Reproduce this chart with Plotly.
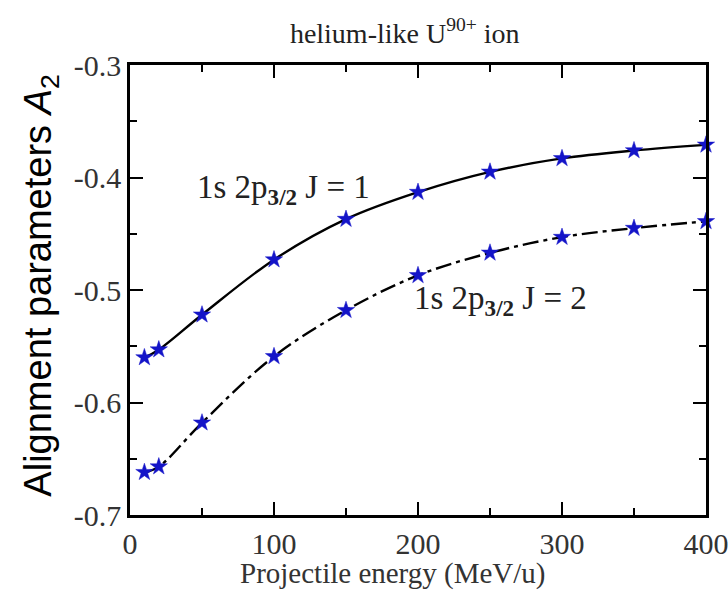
import plotly.graph_objects as go

energy = [10, 20, 50, 100, 150, 200, 250, 300, 350, 400]
a2_j1 = [-0.560, -0.553, -0.522, -0.473, -0.437, -0.413, -0.395, -0.383, -0.376, -0.371]
a2_j2 = [-0.662, -0.657, -0.618, -0.559, -0.518, -0.487, -0.467, -0.453, -0.445, -0.439]

x_ticks = [0, 100, 200, 300, 400]
x_ticktext = ["0", "100", "200", "300", "400"]
y_ticks = [-0.7, -0.6, -0.5, -0.4, -0.3]
y_ticktext = ["-0.7", "-0.6", "-0.5", "-0.4", "-0.3"]

serif = "Liberation Serif"
sans = "Liberation Sans"
marker = dict(symbol="star", size=13, color="#1414c8", line=dict(width=0.5, color="#1414c8"))

fig = go.Figure()
fig.add_trace(go.Scatter(x=energy, y=a2_j1, mode="lines+markers",
                         line=dict(color="black", width=2.4, shape="spline"),
                         marker=marker, showlegend=False, cliponaxis=False))
fig.add_trace(go.Scatter(x=energy, y=a2_j2, mode="lines+markers",
                         line=dict(color="black", width=2.4, shape="spline", dash="16px,5px,4px,5px"),
                         marker=marker, showlegend=False, cliponaxis=False))

axis_common = dict(showline=True, linecolor="black", linewidth=2.5, mirror="ticks",
                   ticks="inside", ticklen=13, tickwidth=1.5, tickcolor="black",
                   showgrid=False, zeroline=False, ticklabeloverflow="allow", automargin=False,
                   tickfont=dict(family=serif, size=30, color="#333333"))

fig.update_xaxes(range=[0, 400], tickvals=x_ticks, ticktext=x_ticktext,
                 minor=dict(dtick=50, tick0=0, ticks="inside", ticklen=7, tickwidth=1.5, tickcolor="black"),
                 **axis_common)
fig.update_yaxes(range=[-0.7, -0.3], tickvals=y_ticks, ticktext=y_ticktext,
                 minor=dict(dtick=0.05, tick0=-0.7, ticks="inside", ticklen=7, tickwidth=1.5, tickcolor="black"),
                 **axis_common)

# axis titles as annotations for precise placement
fig.add_annotation(x=0.455, y=-0.131, xref="paper", yref="paper", xanchor="center", yanchor="middle",
                   text="Projectile energy (MeV/u)", showarrow=False,
                   font=dict(family=serif, size=29, color="#333333"))
fig.add_annotation(x=-0.156, y=0.51, xref="paper", yref="paper", xanchor="center", yanchor="middle",
                   text="Alignment parameters <i>A</i><sub>2</sub>", showarrow=False, textangle=-90,
                   font=dict(family=sans, size=38, color="black"))

fig.add_annotation(x=45, y=-0.411, xref="x", yref="y", xanchor="left", yanchor="middle",
                   text="1s 2p<sub><b>3/2</b></sub> J = 1", showarrow=False,
                   font=dict(family=serif, size=33, color="#222222"))
fig.add_annotation(x=196, y=-0.509, xref="x", yref="y", xanchor="left", yanchor="middle",
                   text="1s 2p<sub><b>3/2</b></sub> J = 2", showarrow=False,
                   font=dict(family=serif, size=33, color="#222222"))

fig.update_layout(
    width=728, height=590,
    margin=dict(l=130, r=22, t=65, b=75, autoexpand=False),
    paper_bgcolor="white", plot_bgcolor="white",
    title=dict(text="helium-like U<sup>90+</sup> ion", xref="paper", x=0.477, xanchor="center",
               yref="container", y=0.944, yanchor="middle",
               font=dict(family=serif, size=28, color="#222222")),
)

fig.write_html("out.html")
